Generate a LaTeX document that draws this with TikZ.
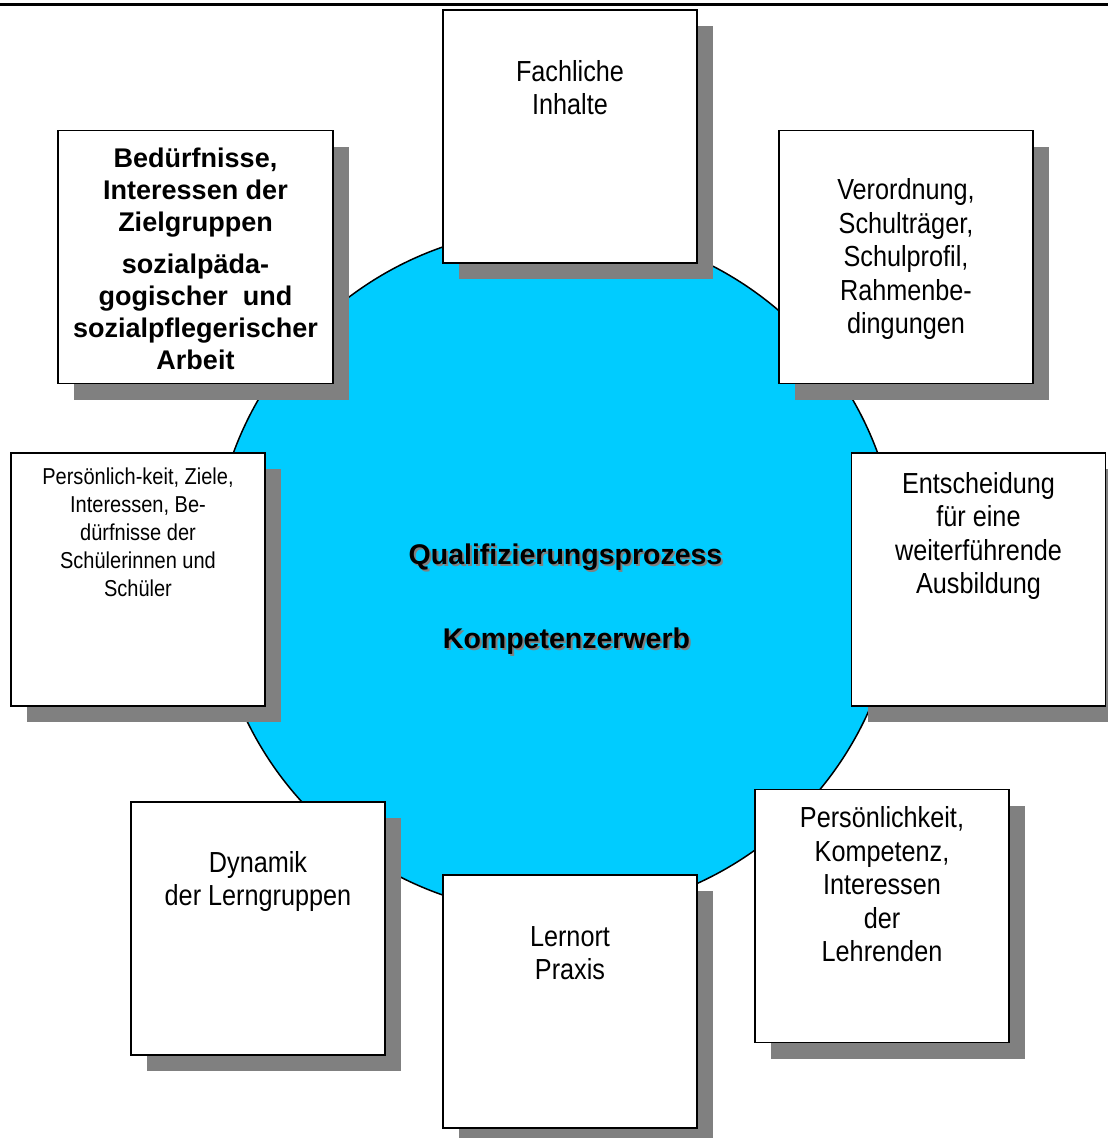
\documentclass[tikz,border=0pt]{standalone}
\usepackage{fontspec}
\setmainfont{Liberation Sans}
\newfontfamily\schmal[FakeStretch=0.87]{Liberation Sans}
\usetikzlibrary{
  positioning,
  shadows
}
\definecolor{kreisblau}{HTML}{00CCFF}
\definecolor{schatten}{HTML}{808080}

\begin{document}
\begin{tikzpicture}[
      x=1pt, y=-1pt,
      kasten/.style={draw=black, line width=1.8pt, fill=white,
                     minimum width=254pt, minimum height=253pt, inner sep=0pt,
                     drop shadow={shadow xshift=16pt, shadow yshift=-16pt,
                                  fill=schatten, opacity=1}},
      txt/.style={align=center, inner sep=0pt,
                  font=\schmal\fontsize{29}{33.5}\selectfont},
      kleintxt/.style={align=center, inner sep=0pt,
                  font=\schmal\fontsize{23}{28}\selectfont},
      fetttxt/.style={align=center, inner sep=0pt,
                  font=\bfseries\fontsize{27}{32}\selectfont},
      mitte/.style={align=center, inner sep=0pt,
                  font=\bfseries\fontsize{28.5}{34}\selectfont}
  ]
      \useasboundingbox (0,0) rectangle (1108,1138);

      % Linie oben
      \coordinate (ol) at (0,4.5);
      \coordinate (or) at (1108,4.5);
      \draw[line width=3.5pt] (ol) -- (or);

      % Kreis in der Mitte
      \node[draw, circle, fill=kreisblau, line width=1.5pt,
            minimum size=686pt, inner sep=0pt] (kreis) at (555.5,571) {};

      \node[mitte, text=schatten] (quali-s) at (567.5,559.5) {Qualifizierungsprozess};
      \node[mitte] (quali) at (565.5,557.5) {Qualifizierungsprozess};
      \node[mitte, text=schatten] (komp-s) at (568.5,643) {Kompetenzerwerb};
      \node[mitte] (komp) at (566.5,641) {Kompetenzerwerb};

      % Kaesten rundherum
      \node[kasten] (fach)     at (570,136.5)  {};
      \node[kasten, minimum width=275pt] (ziel) at (195.5,257) {};
      \node[kasten] (verord)   at (906,257)    {};
      \node[kasten] (schueler) at (138,579.5)  {};
      \node[kasten] (entsch)   at (978.5,579.5) {};
      \node[kasten] (dynamik)  at (258,928.5)  {};
      \node[kasten] (praxis)   at (570,1001.5) {};
      \node[kasten] (lehr)     at (882,916)    {};

      % Texte in den Kaesten
      \node[txt, below=51pt of fach.north] (fach-t) {Fachliche\\Inhalte};
      \node[fetttxt, below=18pt of ziel.north] (ziel-t) {
          Bedürfnisse,\\
          Interessen der\\
          Zielgruppen\\[10pt]
          sozialpäda-\\
          gogischer~ und\\
          sozialpflegerischer\\
          Arbeit
      };
      \node[txt, below=49pt of verord.north] (verord-t) {
          Verordnung,\\
          Schulträger,\\
          Schulprofil,\\
          Rahmenbe-\\
          dingungen
      };
      \node[kleintxt, below=16pt of schueler.north] (schueler-t) {
          Persönlich-keit, Ziele,\\
          Interessen, Be-\\
          dürfnisse der\\
          Schülerinnen und\\
          Schüler
      };
      \node[txt, below=20pt of entsch.north] (entsch-t) {
          Entscheidung\\
          für eine\\
          weiterführende\\
          Ausbildung
      };
      \node[txt, below=50pt of dynamik.north] (dynamik-t) {Dynamik\\der Lerngruppen};
      \node[txt, below=52pt of praxis.north] (praxis-t) {Lernort\\Praxis};
      \node[txt, below=18pt of lehr.north] (lehr-t) {
          Persönlichkeit,\\
          Kompetenz,\\
          Interessen\\
          der\\
          Lehrenden
      };
  \end{tikzpicture}
\end{document}
